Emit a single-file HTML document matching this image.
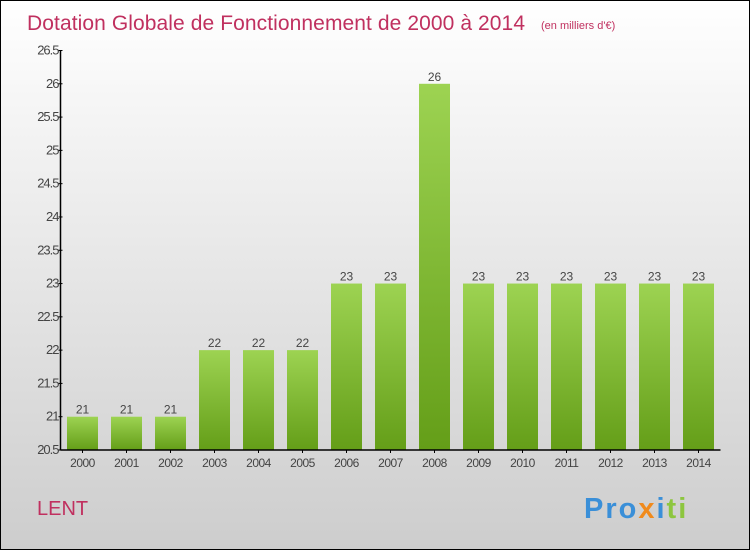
<!DOCTYPE html>
<html><head><meta charset="utf-8"><style>
body{margin:0;}
#c{width:748px;height:548px;border:1px solid #000;background:linear-gradient(#ffffff,#cdcdcd);position:relative;font-family:"Liberation Sans",sans-serif;}
</style></head><body>
<div id="c">
<svg id="s" width="748" height="548" style="position:absolute;left:0;top:0">
<defs><linearGradient id="g" x1="0" y1="0" x2="0" y2="1"><stop offset="0" stop-color="#9dd352"/><stop offset="1" stop-color="#649e18"/></linearGradient></defs>
<text x="26" y="29" font-size="21" fill="#c0305f" textLength="498">Dotation Globale de Fonctionnement de 2000 à 2014</text>
<text x="540" y="28" font-size="11" fill="#c0305f">(en milliers d'€)</text>
<text x="36" y="514" font-size="20" fill="#c0305f">LENT</text>
<text x="583" y="517" font-size="29" font-weight="bold" letter-spacing="2"><tspan fill="#3a8fd8">Pro</tspan><tspan fill="#f08a1c">x</tspan><tspan fill="#3a8fd8">i</tspan><tspan fill="#8dc63f">ti</tspan></text>
<g id="plot"></g>
</svg>
</div>
<script>
const categories=["2000","2001","2002","2003","2004","2005","2006","2007","2008","2009","2010","2011","2012","2013","2014"];
const values=[21,21,21,22,22,22,23,23,26,23,23,23,23,23,23];
const yTicks=[20.5,21,21.5,22,22.5,23,23.5,24,24.5,25,25.5,26,26.5];
const ns="http://www.w3.org/2000/svg";
const g=document.getElementById('plot');
const x0=59.5,slot=44,yMin=20.5,yMax=26.5,yB=449,yT=49.5;
function y(v){return yB-(v-yMin)/(yMax-yMin)*(yB-yT);}
function mk(t,a,txt){const e=document.createElementNS(ns,t);for(const k in a)e.setAttribute(k,a[k]);if(txt!==undefined)e.textContent=txt;g.appendChild(e);return e;}
yTicks.forEach(t=>{
 const l=mk('line',{x1:x0-2,x2:x0+2,y1:y(t),y2:y(t),stroke:'#000'});
 
 
 const tx=mk('text',{x:x0-2,y:y(t)+4,'font-size':13,fill:'#444','text-anchor':'end','letter-spacing':'-1'},String(t));
 
 
});
categories.forEach((c,i)=>{
 const bx=x0+i*slot+6.5,v=values[i];
 const r=mk('rect',{x:bx,y:y(v),width:31,height:yB-y(v),fill:'url(#g)'});
 
 
 const vl=mk('text',{x:bx+15.5,y:y(v)-3,'font-size':12,fill:'#444','text-anchor':'middle'},String(v));
 
 
 const tk=mk('line',{x1:x0+i*slot+22,x2:x0+i*slot+22,y1:yB,y2:yB+3,stroke:'#000'});
 
 
 const xl=mk('text',{x:x0+i*slot+22,y:yB+17,'font-size':12,fill:'#444','text-anchor':'middle','letter-spacing':'-0.5'},c);
 
 
});
const ya=mk('line',{x1:x0,x2:x0,y1:yT,y2:yB,stroke:'#000','stroke-width':1.5});


const xa=mk('line',{x1:x0,x2:x0+660,y1:yB,y2:yB,stroke:'#000','stroke-width':1.5});


</script>
</body></html>
